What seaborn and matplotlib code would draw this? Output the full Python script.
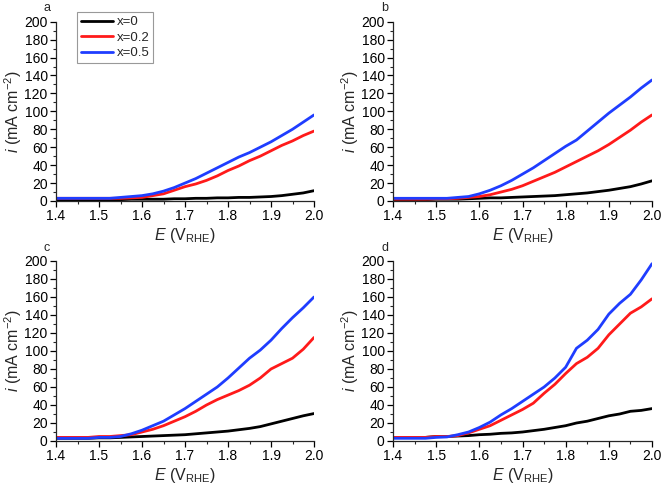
import numpy as np
import pandas as pd
import matplotlib
matplotlib.use("Agg")
import matplotlib.pyplot as plt
import seaborn as sns
from matplotlib.ticker import MultipleLocator

E = [1.400, 1.425, 1.450, 1.475, 1.500, 1.525, 1.550, 1.575, 1.600, 1.625,
     1.650, 1.675, 1.700, 1.725, 1.750, 1.775, 1.800, 1.825, 1.850, 1.875,
     1.900, 1.925, 1.950, 1.975, 2.000]

series_labels = ["x=0", "x=0.2", "x=0.5"]
panel_letters = ["a", "b", "c", "d"]

a_x0 = [1, 1, 1, 1, 1.5, 1.5, 1.5, 2, 2, 2, 2, 2.5, 2.5, 3, 3, 3.5, 3.5, 4, 4, 4.5, 5, 6, 7.5, 9, 11.5]
a_x02 = [3, 3, 3, 3, 3, 3, 3, 3.5, 4, 6, 8, 12, 16, 19, 23, 28, 34, 39, 45, 50, 56, 62, 67, 73, 78]
a_x05 = [3, 3, 3, 3, 3, 3, 4, 5, 6, 8, 11, 15, 20, 25, 31, 37, 43, 49, 54, 60, 66, 73, 80, 88, 96]

b_x0 = [1.5, 1.5, 1.5, 1.5, 2, 2, 2, 2.5, 3, 3.5, 3.5, 4, 4.5, 5, 5.5, 6, 7, 8, 9, 10.5, 12, 14, 16, 19, 22.5]
b_x02 = [2, 2, 2, 2, 2.5, 2.5, 3, 4, 5, 7, 10, 13, 17, 22, 27, 32, 38, 44, 50, 56, 63, 71, 79, 88, 96]
b_x05 = [3, 3, 3, 3, 3, 3, 4, 5, 8, 12, 17, 23, 30, 37, 45, 53, 61, 68, 78, 88, 98, 107, 116, 126, 135]

c_x0 = [3, 3, 3, 3, 3.5, 3.5, 4, 4.5, 5, 5.5, 6, 6.5, 7, 8, 9, 10, 11, 12.5, 14, 16, 19, 22, 25, 28, 30.5]
c_x02 = [4, 4, 4, 4, 5, 5, 6, 7, 10, 13, 17, 22, 27, 33, 40, 46, 51, 56, 62, 70, 80, 86, 92, 102, 115]
c_x05 = [3, 3, 3, 3, 4, 4, 5, 8, 12, 17, 22, 29, 36, 44, 52, 60, 70, 81, 92, 101, 112, 125, 137, 148, 160]

d_x0 = [4, 4, 4, 4, 5, 5, 5.5, 6, 7, 7.5, 8.5, 9, 10, 11.5, 13, 15, 17, 20, 22, 25, 28, 30, 33, 34, 36]
d_x02 = [4, 4, 4, 4, 5, 5, 6, 9, 13, 17, 23, 29, 35, 42, 53, 63, 75, 86, 93, 103, 118, 130, 142, 149, 158]
d_x05 = [3, 3, 3, 3, 4, 4.5, 7, 10, 15, 21, 29, 36, 44, 52, 60, 70, 82, 103, 112, 124, 141, 153, 163, 179, 197]

panels = [(a_x0, a_x02, a_x05), (b_x0, b_x02, b_x05),
          (c_x0, c_x02, c_x05), (d_x0, d_x02, d_x05)]

sns.set_style("ticks")
plt.rcParams["font.family"] = ["Liberation Sans", "DejaVu Sans"]
plt.rcParams["mathtext.fontset"] = "custom"
plt.rcParams["mathtext.rm"] = "Liberation Sans"
plt.rcParams["mathtext.it"] = "Liberation Sans:italic"
plt.rcParams["axes.linewidth"] = 0.9

palette = {"x=0": "#000000", "x=0.2": "#ff1a1a", "x=0.5": "#1f3dff"}

fig = plt.figure(figsize=(6.61, 4.88), dpi=100)
positions = [
    [56 / 661, 1 - 201 / 488, 258 / 661, 179.3 / 488],
    [393 / 661, 1 - 201 / 488, 259 / 661, 179.3 / 488],
    [56 / 661, 1 - 441 / 488, 258 / 661, 180 / 488],
    [393 / 661, 1 - 441 / 488, 259 / 661, 180 / 488],
]
letter_pos = [(43, 8), (381, 8), (43, 248), (381, 248)]

for k, (vals, pos) in enumerate(zip(panels, positions)):
    ax = fig.add_axes(pos)
    df = pd.DataFrame({
        "E": E * 3,
        "i": list(vals[0]) + list(vals[1]) + list(vals[2]),
        "series": [series_labels[0]] * len(E) + [series_labels[1]] * len(E) + [series_labels[2]] * len(E),
    })
    sns.lineplot(data=df, x="E", y="i", hue="series", palette=palette,
                 hue_order=series_labels, linewidth=2.0, ax=ax,
                 legend=(k == 0))
    ax.set_xlim(1.4, 2.0)
    ax.set_ylim(0, 200)
    ax.xaxis.set_major_locator(MultipleLocator(0.1))
    ax.xaxis.set_minor_locator(MultipleLocator(0.05))
    ax.yaxis.set_major_locator(MultipleLocator(20))
    ax.yaxis.set_minor_locator(MultipleLocator(10))
    ax.tick_params(which="major", direction="out", length=4, width=0.9,
                   labelsize=10, pad=2, colors="black")
    ax.tick_params(which="minor", direction="out", length=2, width=0.8)
    ax.set_xticklabels([f"{v:.1f}" for v in ax.get_xticks()])
    for s in ["top", "right"]:
        ax.spines[s].set_visible(False)
    ax.set_xlabel(r"$\mathit{E}$ (V$_{\mathrm{RHE}}$)", fontsize=11.5)
    ax.set_ylabel(r"$\mathit{i}$ (mA cm$^{\mathrm{-2}}$)", fontsize=11.5)
    w_px = pos[2] * 661
    h_px = pos[3] * 488
    ax.xaxis.set_label_coords(0.5, -25 / h_px)
    ax.yaxis.set_label_coords(-(56 - 13) / w_px, 0.5)
    ax.yaxis.label.set_va("center")
    lx, ly = letter_pos[k]
    fig.text(lx / 661, 1 - ly / 488, panel_letters[k], fontsize=9,
             ha="left", va="center")
    if k == 0:
        handles, labels = ax.get_legend_handles_labels()
        ax.legend(handles, labels, loc="upper left",
                  bbox_to_anchor=(77 / 661, 1 - 12 / 488),
                  bbox_transform=fig.transFigure, fontsize=9.5,
                  frameon=True, fancybox=False, edgecolor="#999999",
                  framealpha=1, handlelength=2.4, handletextpad=0.3,
                  labelspacing=0.25, borderpad=0.3, borderaxespad=0)
        ax.get_legend().get_frame().set_linewidth(0.8)

fig.savefig("out.png", dpi=100)
